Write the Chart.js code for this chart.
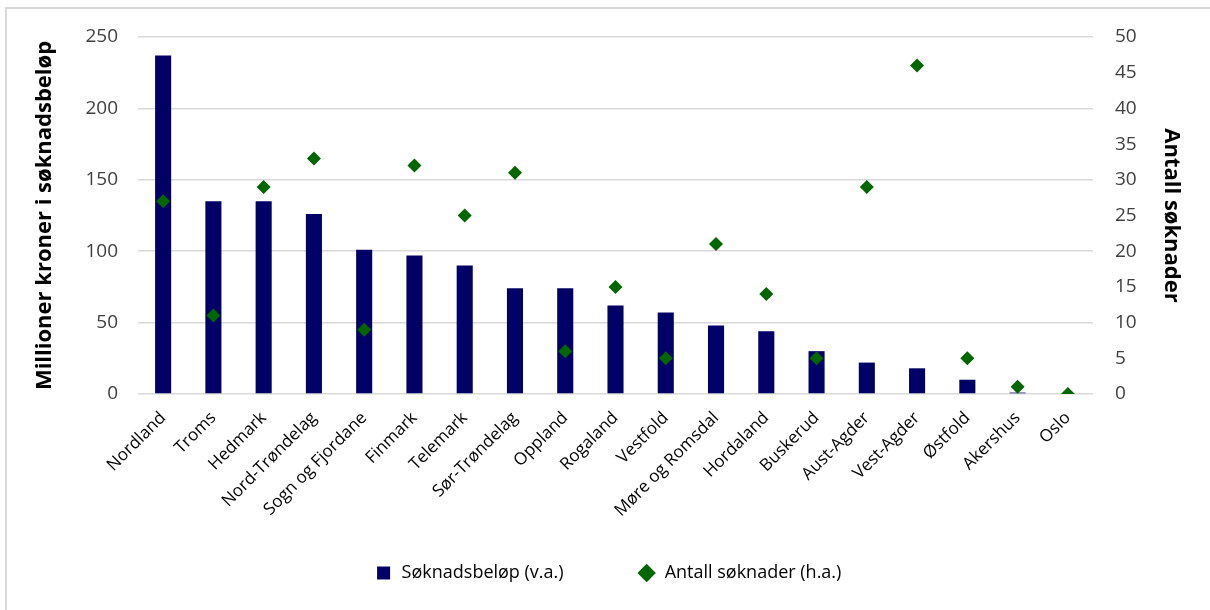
<!DOCTYPE html>
<html lang="no">
<head>
<meta charset="UTF-8">
<title>Søknader per fylke</title>
<script src="https://cdn.jsdelivr.net/npm/chart.js"></script>
<style>
    html, body { margin: 0; padding: 0; background: #fff; }
    #wrap { position: relative; width: 1210px; height: 610px; }
</style>
</head>
<body>
<div id="wrap"><canvas id="soknadChart" width="1210" height="610"></canvas></div>
<script>
// fylker, sortert etter søknadsbeløp
var fylker = ['Nordland', 'Troms', 'Hedmark', 'Nord-Trøndelag', 'Sogn og Fjordane', 'Finmark',
    'Telemark', 'Sør-Trøndelag', 'Oppland', 'Rogaland', 'Vestfold', 'Møre og Romsdal',
    'Hordaland', 'Buskerud', 'Aust-Agder', 'Vest-Agder', 'Østfold', 'Akershus', 'Oslo'];

// millioner kroner (venstre akse)
var soknadsbelop = [237, 135, 135, 126, 101, 97, 90, 74, 74, 62, 57, 48, 44, 30, 22, 18, 10, 1, 0];

// antall søknader (høyre akse)
var antallSoknader = [27, 11, 29, 33, 9, 32, 25, 31, 6, 15, 5, 21, 14, 5, 29, 46, 5, 1, 0];

var fontFamily = '"Open Sans", "Noto Sans", sans-serif';

var framePlugin = {
    id: 'frame',
    // let the long rotated labels run below the x axis box instead of being cut
    afterLayout: function (chart) {
        chart.scales.x.bottom = chart.height;
    },
    beforeDraw: function (chart) {
        var ctx = chart.ctx;
        ctx.save();
        ctx.strokeStyle = '#d9d9d9';
        ctx.lineWidth = 2;
        ctx.strokeRect(6, 8, 1400, 800);
        ctx.restore();
    }
};

var ctx = document.getElementById('soknadChart').getContext('2d');
var soknadChart = new Chart(ctx, {
    type: 'bar',
    data: {
        labels: fylker,
        datasets: [{
            type: 'line',
            label: 'Antall søknader (h.a.)',
            data: antallSoknader,
            yAxisID: 'y1',
            showLine: false,
            pointStyle: 'rectRot',
            pointRadius: 7,
            pointHoverRadius: 7,
            backgroundColor: '#006600',
            borderColor: '#006600',
            borderWidth: 0,
            order: 0
        }, {
            type: 'bar',
            label: 'Søknadsbeløp (v.a.)',
            data: soknadsbelop,
            yAxisID: 'y',
            backgroundColor: '#000066',
            pointStyle: 'rect',
            barPercentage: 0.32,
            categoryPercentage: 1.0,
            order: 1
        }]
    },
    options: {
        responsive: false,
        animation: false,
        layout: {
            padding: { left: 32, right: 26, top: 37, bottom: 18 }
        },
        plugins: {
            legend: {
                position: 'bottom',
                reverse: true,
                labels: {
                    usePointStyle: true,
                    boxHeight: 13,
                    padding: 74,
                    color: '#000',
                    font: { family: fontFamily, size: 18 }
                }
            },
            tooltip: { enabled: false }
        },
        scales: {
            x: {
                grid: { display: false },
                border: { display: false },
                ticks: {
                    color: '#000',
                    maxRotation: 45,
                    minRotation: 45,
                    padding: 6,
                    font: { family: fontFamily, size: 17 }
                },
                afterFit: function (scale) { scale.height = 96; }
            },
            y: {
                position: 'left',
                min: 0,
                max: 250,
                ticks: {
                    stepSize: 50,
                    color: '#404040',
                    padding: 20,
                    font: { family: fontFamily, size: 19 }
                },
                grid: { color: '#d9d9d9', lineWidth: 1.5, drawTicks: false },
                border: { display: false },
                title: {
                    display: true,
                    text: 'Millioner kroner i søknadsbeløp',
                    color: '#000',
                    padding: 0,
                    font: { family: fontFamily, size: 22, weight: 'bold' }
                },
                afterFit: function (scale) { scale.width = 106; }
            },
            y1: {
                position: 'right',
                min: 0,
                max: 50,
                ticks: {
                    stepSize: 5,
                    color: '#404040',
                    padding: 22,
                    font: { family: fontFamily, size: 19 }
                },
                grid: { display: false, drawTicks: false },
                border: { display: false },
                title: {
                    display: true,
                    text: 'Antall søknader',
                    color: '#000',
                    padding: 0,
                    font: { family: fontFamily, size: 22, weight: 'bold' }
                },
                afterFit: function (scale) { scale.width = 91; }
            }
        }
    },
    plugins: [framePlugin]
});
</script>
</body>
</html>
